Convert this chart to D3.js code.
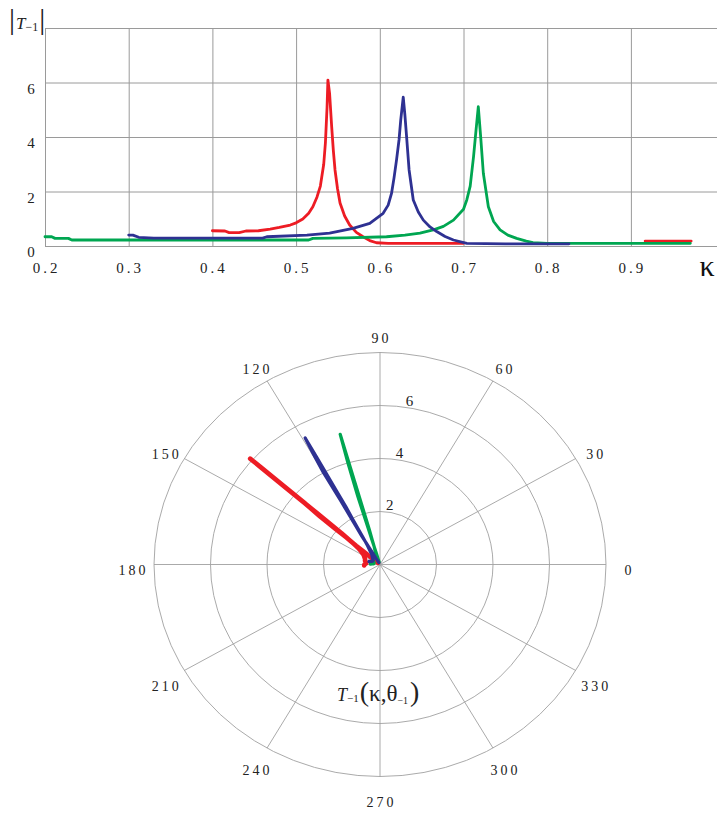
<!DOCTYPE html>
<html>
  <head>
    <meta charset="UTF-8" />
    <script src="https://d3js.org/d3.v7.min.js"></script>
    <style>
      body {
        margin: 0;
        background: #fff;
        font-family: 'Liberation Serif', 'Times New Roman', serif;
      }
      .grid line {
        stroke: #9a9a9a;
        stroke-width: 1px;
      }
      .grid path {
        display: none;
      }
      .tick-label {
        font-size: 14px;
        fill: #222;
      }
      .pgrid {
        fill: none;
        stroke: #a0a0a0;
        stroke-width: 0.9px;
      }
      .curve {
        fill: none;
        stroke-linejoin: round;
        stroke-linecap: round;
      }
    </style>
  </head>
  <body>
    <svg width="717" height="816"></svg>
    <script>
      // |T-1| vs kappa, three series; theta = polar angle in degrees
      const kappaRed = [0.400, 0.415, 0.420, 0.432, 0.440, 0.455, 0.469, 0.480, 0.493, 0.500, 0.508, 0.515, 0.520, 0.525, 0.529, 0.533, 0.535, 0.537, 0.538, 0.540, 0.5425, 0.5445, 0.5465, 0.5495, 0.5525, 0.558, 0.564, 0.572, 0.580, 0.588, 0.596, 0.610, 0.650, 0.700, null, 0.917, 0.972];
      const absRed = [0.56, 0.55, 0.49, 0.49, 0.55, 0.56, 0.62, 0.68, 0.77, 0.85, 0.99, 1.2, 1.44, 1.8, 2.2, 3.0, 3.78, 5.1, 6.09, 5.6, 4.38, 3.5, 2.79, 2.1, 1.58, 1.1, 0.77, 0.5, 0.34, 0.2, 0.12, 0.1, 0.1, 0.1, null, 0.18, 0.18];
      const thetaRed = [184, 180, 175, 170, 165, 160, 153, 148, 145, 143, 141, 140, 139.5, 139, 139, 139, 139, 139, 139, 139, 139, 139, 139.5, 139.5, 139.5, 140, 140, 140, 140, 140, 140, 140, 140, 140, null, 140, 140];

      const kappaBlue = [0.300, 0.305, 0.312, 0.330, 0.400, 0.460, 0.465, 0.513, 0.540, 0.568, 0.588, 0.604, 0.610, 0.614, 0.617, 0.620, 0.623, 0.625, 0.628, 0.630, 0.632, 0.635, 0.640, 0.646, 0.652, 0.660, 0.668, 0.678, 0.688, 0.704, 0.750, 0.826];
      const absBlue = [0.40, 0.40, 0.32, 0.29, 0.29, 0.29, 0.34, 0.40, 0.47, 0.65, 0.83, 1.2, 1.5, 1.93, 2.5, 3.16, 3.9, 4.62, 5.46, 4.8, 4.01, 2.79, 1.69, 1.25, 0.95, 0.7, 0.53, 0.35, 0.22, 0.1, 0.08, 0.08];
      const thetaBlue = [165, 162, 158, 154, 150, 146, 140, 134, 128, 124, 122, 120.5, 120, 119.5, 119, 119, 119, 119, 119, 119.5, 120, 120, 120.5, 121, 121, 121, 121, 121, 121, 121, 121, 121];

      const kappaGreen = [0.200, 0.208, 0.212, 0.228, 0.232, 0.300, 0.400, 0.469, 0.515, 0.520, 0.560, 0.608, 0.630, 0.648, 0.665, 0.676, 0.688, 0.700, 0.704, 0.708, 0.712, 0.715, 0.7177, 0.7205, 0.7237, 0.7297, 0.736, 0.7437, 0.753, 0.7635, 0.775, 0.783, 0.800, 0.900, 0.971];
      const absGreen = [0.34, 0.34, 0.28, 0.28, 0.22, 0.22, 0.22, 0.22, 0.22, 0.28, 0.30, 0.34, 0.40, 0.47, 0.60, 0.72, 0.95, 1.35, 1.7, 2.2, 3.28, 4.26, 5.11, 4.01, 2.67, 1.44, 0.9, 0.59, 0.4, 0.28, 0.18, 0.12, 0.1, 0.1, 0.1];
      const thetaGreen = [178, 178, 176, 175, 174, 172, 170, 165, 160, 150, 140, 125, 115, 110, 108, 107, 106.5, 106, 106, 106, 106, 106, 106, 106.5, 107, 107, 107, 107, 107, 107, 107, 107, 107, 107, 107];

      const xTicks = [0.2, 0.3, 0.4, 0.5, 0.6, 0.7, 0.8, 0.9];
      const yTicks = [0, 2, 4, 6];
      const angleTicks = [0, 30, 60, 90, 120, 150, 180, 210, 240, 270, 300, 330];
      const ringTicks = [2, 4, 6, 8];
      const ringLabels = [2, 4, 6];

      const colors = { red: '#ed1c24', blue: '#2e3192', green: '#00a651' };

      const series = [
        { name: 'red', k: kappaRed, v: absRed, t: thetaRed, w: 2.8, pw: 4.6 },
        { name: 'green', k: kappaGreen, v: absGreen, t: thetaGreen, w: 2.8, pw: 3.2 },
        { name: 'blue', k: kappaBlue, v: absBlue, t: thetaBlue, w: 2.8, pw: 3.2 },
      ].map((s) => ({
        ...s,
        pts: s.k.map((k, i) => ({ k: k, v: s.v[i], t: s.t[i] })),
      }));

      const svg = d3.select('svg');
      const W = 717;

      // ---------- top chart ----------
      const x = d3.scaleLinear().domain([0.2, 1.0]).range([45, 714.6]);
      const y = d3.scaleLinear().domain([0, 8]).range([246, 28]);

      svg
        .append('g')
        .attr('class', 'grid')
        .attr('transform', 'translate(0,246)')
        .call(d3.axisBottom(x).tickValues(xTicks).tickSize(-218).tickFormat(''));

      svg
        .append('g')
        .attr('class', 'grid')
        .attr('transform', 'translate(45,0)')
        .call(d3.axisLeft(y).tickValues([0, 2, 4, 6, 8]).tickSize(-(W - 45)).tickFormat(''));

      svg
        .selectAll('.xlab')
        .data(xTicks)
        .enter()
        .append('text')
        .attr('class', 'tick-label')
        .attr('x', (d) => x(d) + 1.5)
        .attr('y', 273)
        .attr('text-anchor', 'middle')
        .style('font-size', '15px')
        .style('letter-spacing', '3px')
        .text((d) => d.toFixed(1));

      svg
        .selectAll('.ylab')
        .data(yTicks)
        .enter()
        .append('text')
        .attr('class', 'tick-label')
        .attr('x', 31)
        .attr('y', (d) => y(d) + 11)
        .attr('text-anchor', 'middle')
        .style('font-size', '15px')
        .text((d) => d);

      // axis titles
      const ttl = svg.append('text').attr('x', 9).attr('y', 29).attr('fill', '#222');
      ttl.append('tspan').style('font-size', '30px').style('font-weight', 300).text('|');
      ttl.append('tspan').attr('dx', 1).style('font-size', '17px').style('font-style', 'italic').text('T');
      ttl.append('tspan').attr('dy', 2).style('font-size', '12px').text('−1');
      ttl.append('tspan').attr('dy', -2).attr('dx', 1).style('font-size', '30px').style('font-weight', 300).text('|');

      svg
        .append('text')
        .attr('x', 707)
        .attr('y', 276)
        .attr('text-anchor', 'middle')
        .attr('fill', '#111')
        .style('font-size', '30px')
        .text('κ');

      const line = d3
        .line()
        .defined((d) => d.k != null && d.v != null)
        .x((d) => x(d.k))
        .y((d) => y(d.v));

      svg
        .selectAll('.curve-top')
        .data(series)
        .enter()
        .append('path')
        .attr('class', 'curve')
        .attr('stroke', (d) => colors[d.name])
        .attr('stroke-width', (d) => d.w)
        .attr('d', (d) => line(d.pts));

      // ---------- polar chart ----------
      const cx = 380;
      const cy = 564.5;
      const rx = d3.scaleLinear().domain([0, 8]).range([0, 226]);
      const ry = d3.scaleLinear().domain([0, 8]).range([0, 212]);
      const rad = (a) => (a * Math.PI) / 180;

      const pg = svg.append('g');

      pg.selectAll('.ring')
        .data(ringTicks)
        .enter()
        .append('ellipse')
        .attr('class', 'pgrid')
        .attr('cx', cx)
        .attr('cy', cy)
        .attr('rx', (d) => rx(d))
        .attr('ry', (d) => ry(d));

      pg.selectAll('.spoke')
        .data(angleTicks)
        .enter()
        .append('line')
        .attr('class', 'pgrid')
        .attr('x1', cx)
        .attr('y1', cy)
        .attr('x2', (d) => cx + rx(8) * Math.cos(rad(d)))
        .attr('y2', (d) => cy - ry(8) * Math.sin(rad(d)));

      pg.selectAll('.alab')
        .data(angleTicks)
        .enter()
        .append('text')
        .attr('class', 'tick-label')
        .style('letter-spacing', '3px')
        .attr('text-anchor', 'middle')
        .attr('x', (d) => cx + 1.5 + (rx(8) + 22) * Math.cos(rad(d)))
        .attr('y', (d) => cy + 10 - (ry(8) + 20) * Math.sin(rad(d)))
        .text((d) => d);

      pg.selectAll('.rlab')
        .data(ringLabels)
        .enter()
        .append('text')
        .attr('class', 'tick-label')
        .attr('text-anchor', 'middle')
        .style('font-size', '15px')
        .attr('x', (d) => cx + rx(d) * Math.cos(rad(80)))
        .attr('y', (d) => cy - ry(d) * Math.sin(rad(80)) - 2)
        .text((d) => d);

      const pline = d3
        .line()
        .defined((d) => d.v != null && d.t != null)
        .x((d) => cx + rx(d.v) * Math.cos(rad(d.t)))
        .y((d) => cy - ry(d.v) * Math.sin(rad(d.t)));

      pg.selectAll('.curve-polar')
        .data(series)
        .enter()
        .append('path')
        .attr('class', 'curve')
        .attr('stroke', (d) => colors[d.name])
        .attr('stroke-width', (d) => d.pw)
        .attr('d', (d) => pline(d.pts));

      const pt = pg.append('text').attr('x', 337).attr('y', 701).attr('fill', '#222');
      pt.append('tspan').style('font-size', '18px').style('font-style', 'italic').text('T');
      pt.append('tspan').attr('dy', 1).style('font-size', '11px').text('−1');
      pt.append('tspan').attr('dy', -1).attr('dx', 1).style('font-size', '28px').text('(');
      pt.append('tspan').style('font-size', '23px').text('κ,θ');
      pt.append('tspan').attr('dy', 3).style('font-size', '10px').text('−1');
      pt.append('tspan').attr('dy', -3).attr('dx', 2).style('font-size', '28px').text(')');
    </script>
  </body>
</html>
